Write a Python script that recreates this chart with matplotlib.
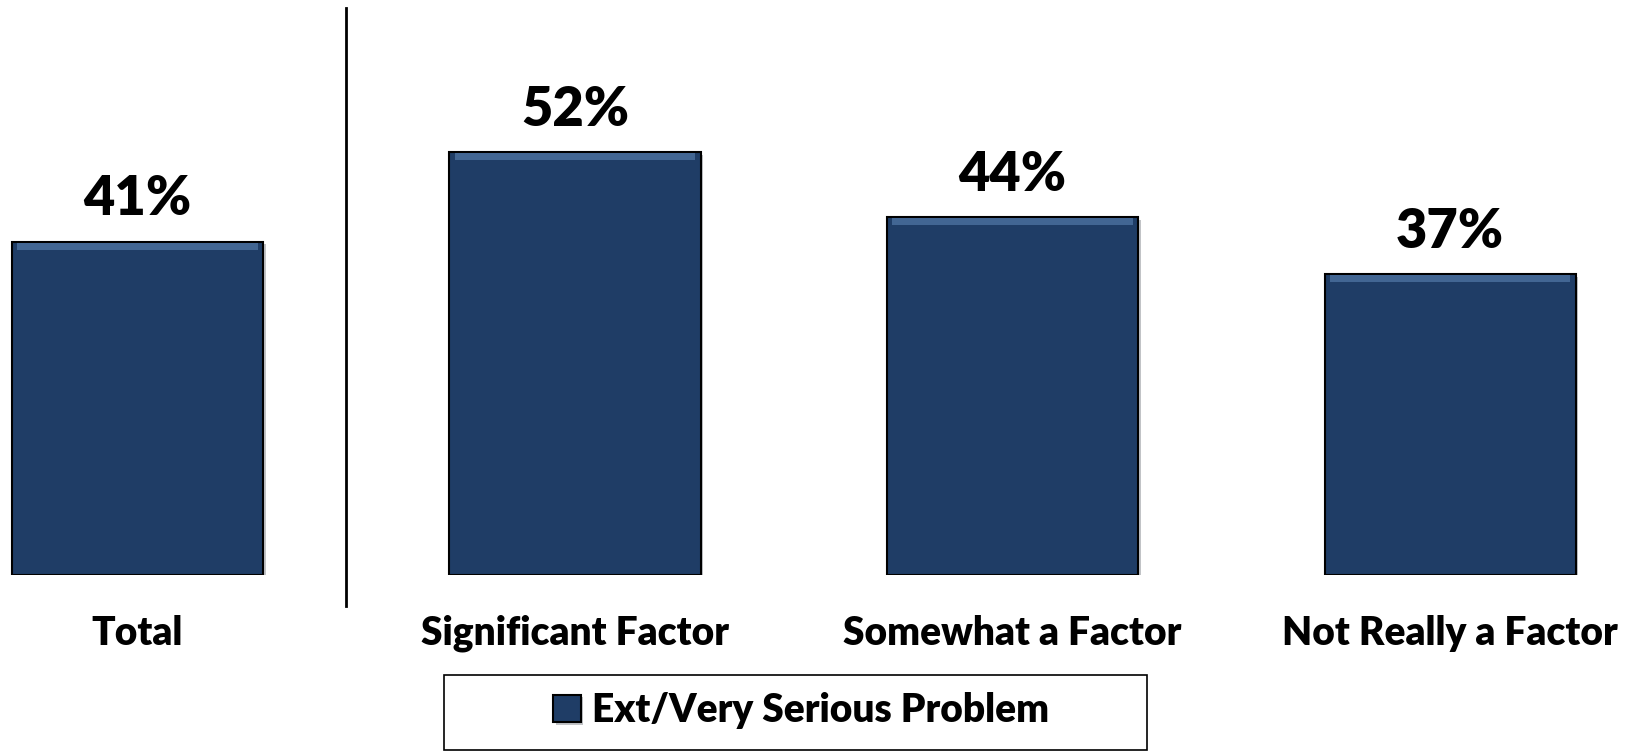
import matplotlib
matplotlib.use('Agg')
import matplotlib.pyplot as plt
import matplotlib.patches as mpatches
import matplotlib.patheffects as pe

# Data
categories = ['Total', 'Significant Factor', 'Somewhat a Factor', 'Not Really a Factor']
values = [41, 52, 44, 37]
series_name = 'Ext/Very Serious Problem'

bar_col = '#1f3d66'
plt.rcParams['font.family'] = ['Lato', 'DejaVu Sans']
wt = 'heavy'

fig = plt.figure(figsize=(16.33, 7.52), dpi=100)
ax = fig.add_axes([0., 0.2354, 1., 0.7646])
ax.set_xlim(-0.314, 3.418) ; ax.set_ylim(0, 70.7)
ax.axis('off')

xx = range(len(categories))
bars = ax.bar(xx, values, width=0.574, color=bar_col, edgecolor='black',
              linewidth=1.5, label=series_name)
for b in bars:
    b.set_path_effects([pe.SimplePatchShadow(offset=(2, -2), alpha=0.25),
                        pe.Normal()])
    # lighter bevel along the top edge
    ax.add_patch(mpatches.Rectangle((b.get_x()+0.012, b.get_height()-1.0),
                                    b.get_width()-0.024, 0.85,
                                    color='#4f74a3', lw=0, alpha=0.75))

for x, v in zip(xx, values):
    ax.annotate('{}%'.format(v), (x, v), xytext=(0, 19), textcoords='offset points',
                ha='center', va='baseline', fontsize=39, fontweight=wt)
    ax.text(x, -8.6, categories[x], ha='center', va='baseline',
            fontsize=28, fontweight=wt, clip_on=False)

# divider between Total and the breakdown
ax.plot([0.476, 0.476], [-3.8, 69.7], color='black', lw=2, clip_on=False)

# legend with its own frame
fig.patches.append(mpatches.Rectangle((444/1633., 2/752.), 703/1633., 75/752.,
                                      transform=fig.transFigure, fill=False,
                                      edgecolor='black', lw=1.2))
leg = fig.legend(handles=[bars], loc='center', bbox_to_anchor=(0.4908, 0.0555),
                 frameon=False, prop={'size': 28, 'weight': wt},
                 handlelength=0.7, handleheight=0.7, handletextpad=0.3)

fig.savefig('out.png', dpi=100)
